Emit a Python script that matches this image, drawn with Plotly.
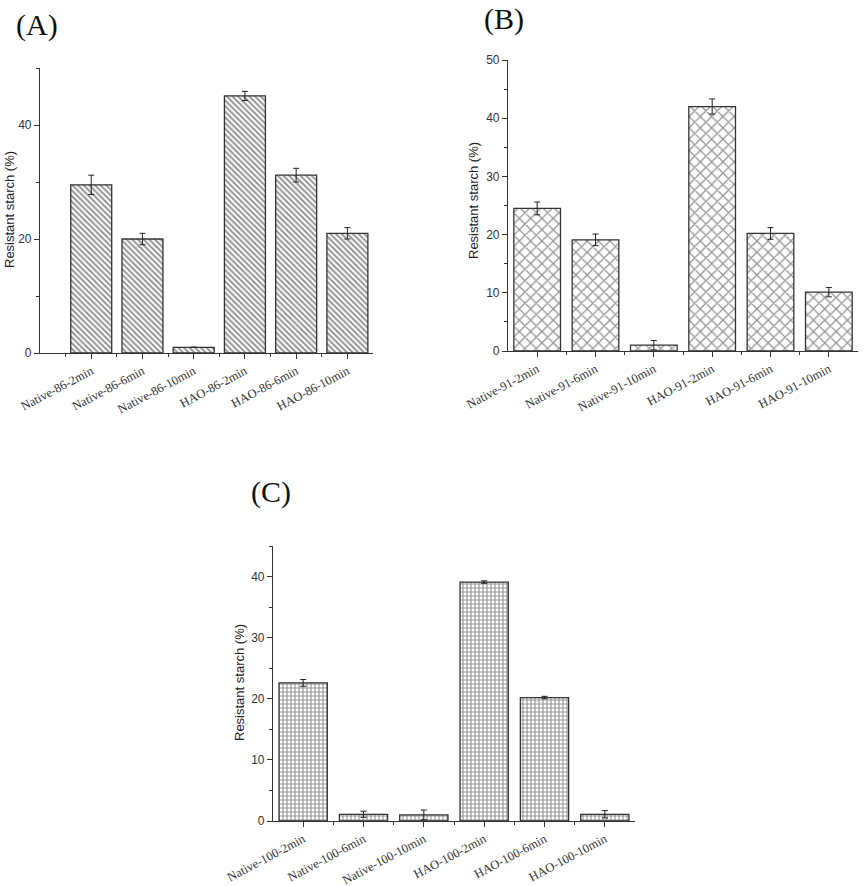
import plotly.graph_objects as go

# ---- data ----
labels_a = ["Native-86-2min", "Native-86-6min", "Native-86-10min", "HAO-86-2min", "HAO-86-6min", "HAO-86-10min"]
values_a = [29.5, 20.0, 1.0, 45.1, 31.2, 21.0]
errors_a = [1.7, 1.0, 0.0, 0.8, 1.2, 1.0]

labels_b = ["Native-91-2min", "Native-91-6min", "Native-91-10min", "HAO-91-2min", "HAO-91-6min", "HAO-91-10min"]
values_b = [24.5, 19.1, 1.0, 42.0, 20.2, 10.1]
errors_b = [1.1, 1.0, 0.8, 1.3, 1.0, 0.8]

labels_c = ["Native-100-2min", "Native-100-6min", "Native-100-10min", "HAO-100-2min", "HAO-100-6min", "HAO-100-10min"]
values_c = [22.6, 1.1, 1.0, 39.1, 20.2, 1.1]
errors_c = [0.55, 0.5, 0.8, 0.2, 0.2, 0.6]

y_title = "Resistant starch (%)"
panel_tags = ["(A)", "(B)", "(C)"]

W, H = 865, 886
LINE = "#333333"
serif = "Liberation Serif, Times New Roman, serif"
sans = "Liberation Sans, Arial, sans-serif"

def fx(p):
    return min(1.0, p / W)

def fy(p):
    return max(0.0, min(1.0, 1 - p / H))

fig = go.Figure()

panels = [
    dict(labels=labels_a, values=values_a, errors=errors_a, shape="\\", psize=4, sol=0.5,
         xs="x", ys="y", xdom=[fx(40), fx(373)], ydom=[fy(353), fy(68)],
         xr=[-1, 5.5], yr=[0, 50], dt=20, mdt=10, minor=[-0.5, 0.5, 1.5, 2.5, 3.5, 4.5],
         title_xy=(9, 210), tag_xy=(37, 25)),
    dict(labels=labels_b, values=values_b, errors=errors_b, shape="x", psize=8, sol=0.3,
         xs="x2", ys="y2", xdom=[fx(508), fx(858)], ydom=[fy(351), fy(60)],
         xr=[-0.5, 5.5], yr=[0, 50], dt=10, mdt=5, minor=[0.5, 1.5, 2.5, 3.5, 4.5],
         title_xy=(473, 201), tag_xy=(504, 19)),
    dict(labels=labels_c, values=values_c, errors=errors_c, shape="+", psize=4, sol=0.5,
         xs="x3", ys="y3", xdom=[fx(273), fx(635)], ydom=[fy(821), fy(546)],
         xr=[-0.5, 5.5], yr=[0, 45], dt=10, mdt=5, minor=[0.5, 1.5, 2.5, 3.5, 4.5],
         title_xy=(239, 682), tag_xy=(271, 492)),
]

layout_axes = {}
annotations = []
for i, p in enumerate(panels):
    n = "" if i == 0 else str(i + 1)
    xpos = list(range(len(p["labels"])))
    fig.add_trace(go.Bar(
        x=xpos, y=p["values"], width=0.8,
        xaxis=p["xs"], yaxis=p["ys"],
        marker=dict(color="white",
                    line=dict(color=LINE, width=1.3),
                    pattern=dict(shape=p["shape"], fgcolor="#2a2a2a", bgcolor="white",
                                 size=p["psize"], solidity=p["sol"])),
        error_y=dict(type="data", array=p["errors"], visible=True,
                     color="#222222", thickness=1, width=3),
        showlegend=False,
    ))
    layout_axes["xaxis" + n] = dict(
        domain=p["xdom"], range=p["xr"], anchor=p["ys"], automargin=False,
        tickmode="array", tickvals=xpos, ticktext=p["labels"],
        tickangle=-28, ticks="outside", ticklen=5, tickwidth=1, tickcolor=LINE,
        minor=dict(tickmode="array", tickvals=p["minor"],
                   ticks="outside", ticklen=3, tickcolor=LINE),
        showline=True, linecolor=LINE, linewidth=1.2, showgrid=False, zeroline=False,
        tickfont=dict(family=serif, size=12.5, color="#333333"),
    )
    layout_axes["yaxis" + n] = dict(
        domain=p["ydom"], range=p["yr"], anchor=p["xs"], automargin=False,
        dtick=p["dt"], tick0=0, ticks="outside", ticklen=5, tickwidth=1, tickcolor=LINE,
        minor=dict(dtick=p["mdt"], ticks="outside", ticklen=3, tickcolor=LINE),
        showline=True, linecolor=LINE, linewidth=1.2, showgrid=False, zeroline=False,
        tickfont=dict(family=sans, size=12, color="#333333"),
    )
    tx, ty = p["title_xy"]
    annotations.append(dict(text=y_title, x=fx(tx), y=fy(ty), textangle=-90,
                            xref="paper", yref="paper", showarrow=False,
                            xanchor="center", yanchor="middle",
                            font=dict(family=sans, size=13, color="#222222")))
    gx, gy = p["tag_xy"]
    annotations.append(dict(text=panel_tags[i], x=fx(gx), y=fy(gy),
                            xref="paper", yref="paper", showarrow=False,
                            xanchor="center", yanchor="middle",
                            font=dict(family=serif, size=30, color="#111111")))

fig.update_layout(
    width=W, height=H,
    margin=dict(l=0, r=0, t=0, b=0, autoexpand=False),
    paper_bgcolor="white", plot_bgcolor="white",
    annotations=annotations,
    bargap=0.2,
    **layout_axes,
)

fig.write_html("out.html", config={"displayModeBar": False},
               post_script="document.body.style.margin='0';")
